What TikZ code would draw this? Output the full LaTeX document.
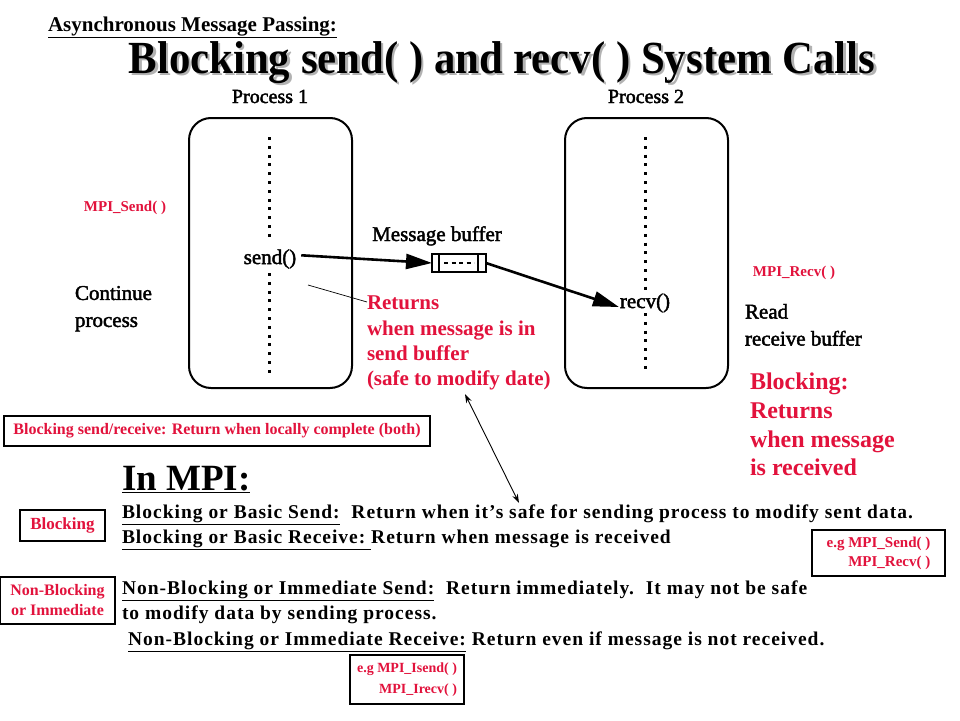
\documentclass[tikz,border=0pt]{standalone}
\usepackage{fontspec}
\setmainfont{Liberation Serif}
\newfontfamily\figfont[FakeBold=2]{Liberation Serif}
\newfontfamily\spacedbf[LetterSpace=5.1]{Liberation Serif}
\usetikzlibrary{arrows.meta}
\definecolor{mred}{RGB}{226,18,60}
\begin{document}
\begin{tikzpicture}[x=1pt,y=-1pt,
  every node/.style={inner sep=0pt, outer sep=0pt},
  lbl/.style={font=\figfont\fontsize{21}{27}\selectfont, align=left},
  redtxt/.style={text=mred, font=\bfseries\fontsize{21}{25.3}\selectfont, align=left},
  redbig/.style={text=mred, font=\bfseries\fontsize{24}{28.7}\selectfont, align=left},
  redsmall/.style={text=mred, font=\bfseries\fontsize{15}{19}\selectfont},
  body/.style={font=\spacedbf\bfseries\fontsize{19.5}{25}\selectfont, anchor=base west},
  tagbox/.style={draw, line width=1.1pt, text=mred, font=\bfseries\fontsize{16}{20}\selectfont},
  procbox/.style={draw, line width=2pt, rounded corners=22pt, minimum width=163pt, minimum height=270pt},
  dots/.style={line width=3pt, dash pattern=on 3pt off 5.8pt},
  bigarrow/.style={line width=2.6pt, -{Triangle[length=26pt,width=15pt]}},
  thinarrow/.style={line width=0.9pt, {Stealth[length=9pt,width=6pt]}-{Stealth[length=9pt,width=6pt]}}
]
\useasboundingbox (0,0) rectangle (960,720);
\fill[white] (0,0) rectangle (960,720);

% headings
\node[anchor=base west, font=\bfseries\fontsize{21}{25}\selectfont] (async) at (48,31) {\underline{Asynchronous Message Passing:}};
\node[anchor=base, text=black!30, font=\bfseries\fontsize{46}{50}\selectfont] (titleshadow) at (504.5,75.5) {\scalebox{0.93}[1]{Blocking send( ) and recv( ) System Calls}};
\node[anchor=base, font=\bfseries\fontsize{46}{50}\selectfont] (title) at (502,73) {\scalebox{0.93}[1]{Blocking send( ) and recv( ) System Calls}};

% processes
\node[anchor=base, font=\figfont\fontsize{20}{24}\selectfont] (pl1) at (270,103) {Process 1};
\node[anchor=base, font=\figfont\fontsize{20}{24}\selectfont] (pl2) at (646,103) {Process 2};
\node[procbox] (p1) at (270.5,253) {};
\node[procbox] (p2) at (646.5,253) {};
\draw[dots] (269,137) -- (269,237);
\draw[dots] (269,273) -- (269,378);
\draw[dots] (645,137) -- (645,370);

\node[font=\figfont\fontsize{21}{25}\selectfont] (send) at (270,259) {send()};
\node[fill=white, inner xsep=1pt, font=\figfont\fontsize{21}{25}\selectfont] (recv) at (645,303) {recv()};

% buffer
\node[anchor=base, font=\figfont\fontsize{21}{25}\selectfont] (mbl) at (437,241) {Message buffer};
\node[draw, line width=1.6pt, minimum width=54pt, minimum height=18pt] (buf) at (459,263) {};
\draw[line width=1.3pt] ([xshift=7pt]buf.north west) -- ([xshift=7pt]buf.south west);
\draw[line width=1.3pt] ([xshift=-8pt]buf.north east) -- ([xshift=-8pt]buf.south east);
\draw[line width=1.6pt, dash pattern=on 4pt off 3.5pt] ([xshift=12pt]buf.west) -- ([xshift=-12pt]buf.east);

\draw[bigarrow, shorten <=5pt] ([yshift=4pt]send.east) -- (buf.west);
\draw[bigarrow] (buf.east) -- ([yshift=-4pt]recv.west);

% side labels
\node[redsmall] (mpis) at (125,208) {MPI\_Send( )};
\node[redsmall] (mpir) at (794,273) {MPI\_Recv( )};
\node[lbl, anchor=north west] (cont) at (75,286) {Continue\\process};
\node[lbl, anchor=north west] (read) at (745,304) {Read\\receive buffer};

\node[redtxt, anchor=north west] (ret) at (367,296) {Returns\\when message is in\\send buffer\\(safe to modify date)};
\coordinate (tl) at (308,285);
\draw[line width=0.7pt] (tl) -- ([yshift=-6pt]ret.north west);

\node[redbig, anchor=north west] (blk) at (750,373) {Blocking:\\Returns\\when message\\is received};

% boxed tags
\node[tagbox, minimum width=426pt, minimum height=30pt] (both) at (217,431) {Blocking send/receive: Return when locally complete (both)};
\node[tagbox, font=\bfseries\fontsize{17}{20}\selectfont, minimum width=85pt, minimum height=31pt] (tblk) at (62.5,525.5) {Blocking};
\node[tagbox, align=center, font=\bfseries\fontsize{16}{20}\selectfont, minimum width=115pt, minimum height=47pt] (tnb) at (57.5,600.5) {Non-Blocking\\or Immediate};
\node[tagbox, align=right, font=\bfseries\fontsize{15}{19}\selectfont, minimum width=133pt, minimum height=46pt] (eg1) at (878.5,553) {e.g MPI\_Send( )\\MPI\_Recv( )};
\node[tagbox, align=right, font=\bfseries\fontsize{14}{21}\selectfont, minimum width=114pt, minimum height=49pt] (eg2) at (407,679.5) {e.g MPI\_Isend( )\\MPI\_Irecv( )};

% In MPI
\node[anchor=base west, font=\bfseries\fontsize{37}{40}\selectfont] (inmpi) at (122,490) {\underline{In MPI:}};
\node[body] (l1) at (122,518) {\underline{Blocking or Basic Send:}\ \ Return when it’s safe for sending process to modify sent data.};
\node[body] (l2) at (122,543) {\underline{Blocking or Basic Receive:\ }Return when message is received};
\node[body] (l3) at (122,594) {\underline{Non-Blocking or Immediate Send:}\ \ Return immediately.\ \ It may not be safe};
\node[body] (l4) at (122,619) {to modify data by sending process.};
\node[body] (l5) at (128,645) {\underline{Non-Blocking or Immediate Receive:} Return even if message is not received.};

\coordinate (a1) at (465,394);
\coordinate (a2) at (519,503);
\draw[thinarrow] (a1) -- (a2);
\end{tikzpicture}
\end{document}
